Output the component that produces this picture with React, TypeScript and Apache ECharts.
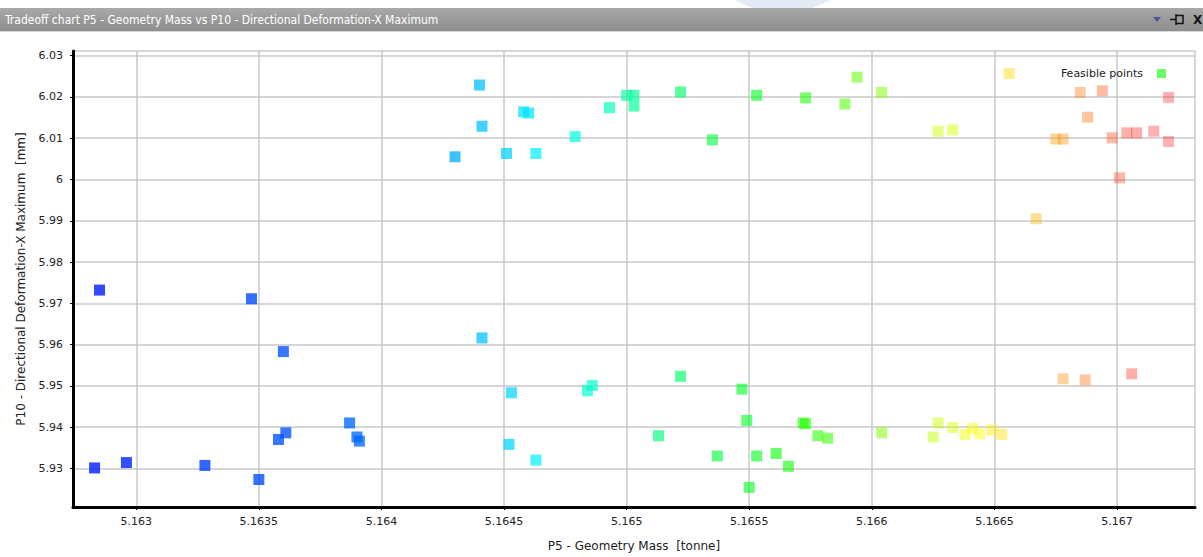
import React, { useEffect, useRef } from "react";
import * as echarts from "echarts";

// P5 - Geometry Mass [tonne]
const massTonne: number[] = [
  5.16285, 5.16347, 5.1636, 5.16441, 5.16453, 5.16283, 5.16296, 5.16328, 5.1635, 5.16358,
  5.16361, 5.16387, 5.1639, 5.16391, 5.16452, 5.16463,
  5.1644, 5.16441, 5.1643, 5.16451, 5.16458, 5.1646, 5.16463, 5.16479, 5.16493, 5.165,
  5.16503, 5.16503, 5.16522, 5.16535, 5.16553, 5.16573, 5.16589, 5.16594, 5.16604,
  5.16486, 5.16484, 5.16522, 5.16513, 5.16547, 5.16549, 5.16537, 5.16553, 5.1655, 5.16561,
  5.16566, 5.16572, 5.16573, 5.16578, 5.16582, 5.16604, 5.16627, 5.16625, 5.16633, 5.16638,
  5.16641, 5.16644, 5.16649, 5.16653,
  5.16627, 5.16633, 5.16656, 5.16685, 5.16694, 5.16721, 5.16688, 5.16675, 5.16678, 5.16698,
  5.16704, 5.16708, 5.16715, 5.16721, 5.16701, 5.16667, 5.16678, 5.16687, 5.16706,
];

// P10 - Directional Deformation-X Maximum [mm]
const deformationMm: number[] = [
  5.9732, 5.9711, 5.9583, 5.9616, 5.9483, 5.9301, 5.9314, 5.9307, 5.9273, 5.937,
  5.9386, 5.941, 5.9376, 5.9366, 5.9358, 5.932,
  6.0229, 6.0129, 6.0055, 6.0063, 6.0164, 6.0161, 6.0063, 6.0104, 6.0174, 6.0204,
  6.0204, 6.0178, 6.0212, 6.0096, 6.0204, 6.0198, 6.0183, 6.0248, 6.0211,
  5.9501, 5.9488, 5.9523, 5.9379, 5.9492, 5.9416, 5.933, 5.933, 5.9254, 5.9336,
  5.9305, 5.941, 5.9408, 5.9379, 5.9373, 5.9386, 5.941, 5.9376, 5.9399, 5.9382,
  5.9397, 5.9384, 5.9393, 5.9382,
  6.0117, 6.012, 6.0257, 6.0211, 6.0215, 6.0199, 6.0151, 6.0098, 6.0098, 6.0101,
  6.0113, 6.0113, 6.0117, 6.0092, 6.0004, 5.9905, 5.9517, 5.9514, 5.9529,
];

const TITLE = "Tradeoff chart P5 - Geometry Mass vs P10 - Directional Deformation-X Maximum";
const SERIES_NAME = "Feasible points";
const X_NAME = "P5 - Geometry Mass  [tonne]";
const Y_NAME = "P10 - Directional Deformation-X Maximum  [mm]";

const X_MIN = 5.162742;
const X_MAX = 5.167318;
const Y_MIN = 5.92063;
const Y_MAX = 6.03114;

// hue anchors along the mass axis (style only)
const HUE_STOPS: [number, number][] = [
  [5.1628, 234],
  [5.164, 214],
  [5.1646, 186],
  [5.165, 158],
  [5.1656, 122],
  [5.166, 94],
  [5.1665, 55],
  [5.1668, 32],
  [5.1671, 0],
  [5.168, 0],
];

function hueFor(x: number): number {
  if (x <= HUE_STOPS[0][0]) return HUE_STOPS[0][1];
  for (let i = 1; i < HUE_STOPS.length; i++) {
    const [x1, h1] = HUE_STOPS[i];
    const [x0, h0] = HUE_STOPS[i - 1];
    if (x <= x1) return h0 + ((x - x0) / (x1 - x0)) * (h1 - h0);
  }
  return 0;
}

function colorFor(x: number): string {
  const h = hueFor(x);
  const t = Math.min(1, Math.max(0, (x - 5.1628) / 0.0044));
  const a = 1 - 0.62 * t * t;
  return `hsla(${h.toFixed(1)}, 100%, 50%, ${a.toFixed(2)})`;
}

export default function App() {
  const ref = useRef<HTMLDivElement>(null);

  useEffect(() => {
    if (!ref.current) return;
    const chart = echarts.init(ref.current, undefined, { renderer: "svg" });
    const data = massTonne.map((m, i) => [m, deformationMm[i]]);
    const font = "DejaVu Sans";

    chart.setOption({
      animation: false,
      backgroundColor: "#ffffff",
      grid: { left: 73, right: 8, top: 51, bottom: 49, containLabel: false },
      legend: {
        top: 63,
        right: 32,
        align: "right",
        itemWidth: 9,
        itemHeight: 9,
        itemGap: 10,
        textStyle: { fontFamily: font, fontSize: 11, color: "#222", padding: [0, 9, 0, 0] },
        data: [{ name: SERIES_NAME, icon: "rect", itemStyle: { color: "#44ff44" } }],
      },
      xAxis: {
        type: "value",
        min: X_MIN,
        max: X_MAX,
        splitNumber: 9,
        minInterval: 0.0005,
        maxInterval: 0.0005,
        name: X_NAME,
        nameLocation: "middle",
        nameGap: 33,
        nameTextStyle: { fontFamily: font, fontSize: 12, color: "#222" },
        axisLine: { show: true, lineStyle: { color: "#000", width: 3 } },
        axisTick: { show: true, length: 3, lineStyle: { color: "#000", width: 1 } },
        axisLabel: {
          showMinLabel: false,
          showMaxLabel: false,
          fontFamily: font,
          fontSize: 11,
          color: "#222",
          margin: 9,
          formatter: (v: number) => String(+v.toFixed(4)),
        },
        splitLine: { show: true, lineStyle: { color: "#c9c9c9", width: 1.5 } },
      },
      yAxis: {
        type: "value",
        min: Y_MIN,
        max: Y_MAX,
        splitNumber: 11,
        minInterval: 0.01,
        maxInterval: 0.01,
        name: Y_NAME,
        nameLocation: "middle",
        nameRotate: 90,
        nameGap: 46,
        nameTextStyle: { fontFamily: font, fontSize: 12, color: "#222" },
        axisLine: { show: true, lineStyle: { color: "#000", width: 3 } },
        axisTick: { show: true, length: 3, lineStyle: { color: "#000", width: 1 } },
        axisLabel: {
          showMinLabel: false,
          showMaxLabel: false,
          fontFamily: font,
          fontSize: 11,
          color: "#222",
          margin: 10,
          formatter: (v: number) => String(+v.toFixed(3)),
        },
        splitLine: { show: true, lineStyle: { color: "#c9c9c9", width: 1.5 } },
      },
      series: [
        {
          name: SERIES_NAME,
          type: "scatter",
          symbol: "rect",
          symbolSize: 11,
          data,
          itemStyle: {
            color: (p: any) => colorFor(p.value[0]),
          },
        },
      ],
      graphic: [
        {
          type: "rect",
          shape: { x: 0, y: 8, width: 1203, height: 23 },
          style: {
            fill: new echarts.graphic.LinearGradient(0, 0, 0, 1, [
              { offset: 0, color: "#a9a9a9" },
              { offset: 0.5, color: "#9a9a9a" },
              { offset: 1, color: "#8f8f8f" },
            ]),
          },
          silent: true,
        },
        {
          type: "line",
          shape: { x1: 0, y1: 31.5, x2: 1203, y2: 31.5 },
          style: { stroke: "#d8d8d8", lineWidth: 1 },
          silent: true,
        },
        {
          type: "polygon",
          shape: { points: [[735, 0], [830, 0], [812, 8], [752, 8]] },
          style: { fill: "rgba(200,212,235,0.5)" },
          silent: true,
        },
        {
          type: "text",
          x: 5,
          y: 19.5,
          style: {
            text: TITLE,
            fontFamily: "DejaVu Sans Condensed, DejaVu Sans",
            fontSize: 12,
            fill: "#ffffff",
            verticalAlign: "middle",
          },
          silent: true,
        },
        {
          type: "polygon",
          shape: { points: [[1153, 17], [1161, 17], [1157, 22]] },
          style: { fill: "#4a56a8" },
          silent: true,
        },
        {
          type: "line",
          shape: { x1: 1170, y1: 19.5, x2: 1176, y2: 19.5 },
          style: { stroke: "#111", lineWidth: 1.5 },
          silent: true,
        },
        {
          type: "polyline",
          shape: { points: [[1176, 15.5], [1183, 15.5], [1183, 23.5], [1176, 23.5]] },
          style: { stroke: "#111", lineWidth: 1.5, fill: "none" },
          silent: true,
        },
        {
          type: "line",
          shape: { x1: 1176, y1: 14, x2: 1176, y2: 25 },
          style: { stroke: "#111", lineWidth: 1.5 },
          silent: true,
        },
        {
          type: "text",
          x: 1193,
          y: 20,
          style: { text: "X", fontFamily: font, fontSize: 12, fill: "#111", verticalAlign: "middle", fontWeight: "bold" },
          silent: true,
        },
      ],
    });

    return () => chart.dispose();
  }, []);

  return (
    <div
      ref={ref}
      style={{ position: "fixed", left: 0, top: 0, width: 1203, height: 557, background: "#fff" }}
    />
  );
}
